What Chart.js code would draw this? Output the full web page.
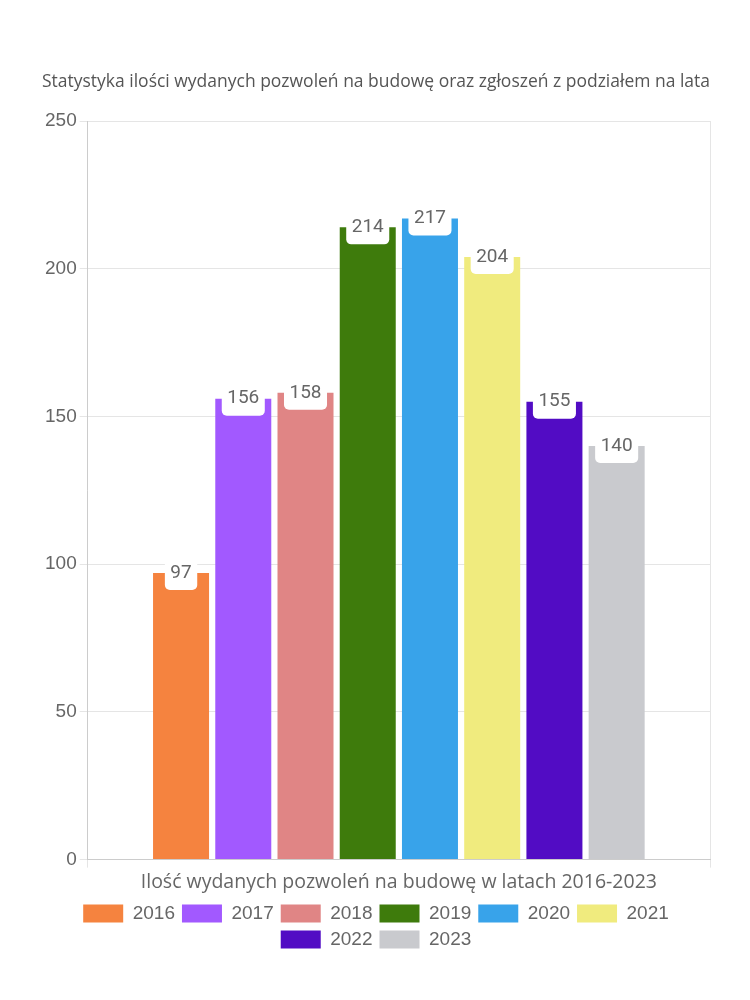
<!DOCTYPE html>
<html>
<head>
<meta charset="utf-8">
<script src="https://cdn.jsdelivr.net/npm/chart.js@4"></script>
<style>
html,body{margin:0;padding:0;background:#fff;}
#wrap{width:750px;height:1000px;position:relative;}
</style>
</head>
<body>
<div id="wrap"><canvas id="c"></canvas></div>
<script>
const categoryLabel = "Ilość wydanych pozwoleń na budowę w latach 2016-2023";
const years = ["2016","2017","2018","2019","2020","2021","2022","2023"];
const values = [97,156,158,214,217,204,155,140];
const colors = ["#F5833F","#A259FF","#E08585","#3E7B0C","#38A3EA","#F0EB7E","#520CC4","#C9CACE"];
const yTicks = [0,50,100,150,200,250];
const titleText = "Statystyka ilości wydanych pozwoleń na budowę oraz zgłoszeń z podziałem na lata";

const datasets = years.map((y,i)=>({
  label: y,
  data: [values[i]],
  backgroundColor: colors[i],
  borderColor: colors[i],
  borderWidth: 0
}));

const valueLabels = {
  id: 'valueLabels',
  afterDatasetsDraw(chart){
    const ctx = chart.ctx;
    ctx.save();
    ctx.font = '19px Roboto';
    ctx.textAlign = 'center';
    ctx.textBaseline = 'middle';
    chart.data.datasets.forEach((ds,i)=>{
      const meta = chart.getDatasetMeta(i);
      if (meta.hidden) return;
      meta.data.forEach((el,j)=>{
        const txt = String(ds.data[j]);
        const w = ctx.measureText(txt).width + 11;
        const h = 34;
        const x = el.x, y = el.y;
        ctx.fillStyle = '#ffffff';
        ctx.beginPath();
        ctx.roundRect(x - w/2, y - h/2, w, h, 5);
        ctx.fill();
        ctx.fillStyle = '#666666';
        ctx.fillText(txt, x, y);
      });
    });
    ctx.restore();
  }
};

new Chart(document.getElementById('c'), {
  type: 'bar',
  data: { labels: [categoryLabel], datasets },
  plugins: [valueLabels],
  options: {
    responsive: true,
    maintainAspectRatio: false,
    animation: false,
    layout: { padding: { top: 72, left: 42, right: 40, bottom: 41 } },
    plugins: {
      title: {
        display: true,
        text: titleText,
        color: '#555555',
        font: { family: 'Open Sans', size: 17.5, weight: 'normal' },
        padding: { top: 0, bottom: 28 }
      },
      legend: {
        position: 'bottom',
        labels: {
          boxWidth: 40,
          boxHeight: 18,
          color: '#666666',
          font: { family: 'Liberation Sans', size: 19 },
          padding: 7
        }
      },
      tooltip: { enabled: false }
    },
    scales: {
      x: {
        grid: { color: '#e5e5e5', drawTicks: true },
        border: { color: '#cccccc' },
        ticks: { color: '#666666', font: { family: 'Open Sans', size: 19.5 } }
      },
      y: {
        min: 0, max: 250,
        afterBuildTicks(axis){ axis.ticks = yTicks.map(v=>({value:v})); },
        grid: { color: '#e5e5e5' },
        border: { color: '#cccccc' },
        ticks: { color: '#666666', font: { family: 'Liberation Sans', size: 19 } }
      }
    }
  }
});
</script>
</body>
</html>
